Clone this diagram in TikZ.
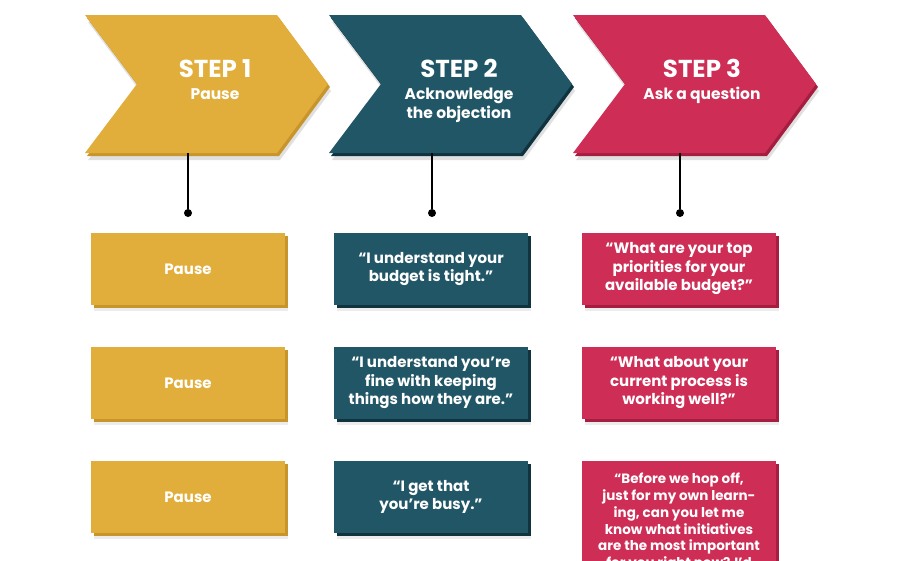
\documentclass[tikz,border=0pt]{standalone}
\usepackage{fontspec}
\setmainfont{Poppins}
\usepackage{tikz}
\usetikzlibrary{positioning,shadows}
\definecolor{gold}{HTML}{E2AE3B}
\definecolor{goldD}{HTML}{C7952B}
\definecolor{teal}{HTML}{215667}
\definecolor{tealD}{HTML}{10333F}
\definecolor{crim}{HTML}{CE2D55}
\definecolor{crimD}{HTML}{A51E40}
\newcommand{\chevron}[3]{%
  \fill[black,opacity=.12,shift={(3,7)}] (#1,15) -- ++(192,0) -- ++(51,69) -- ++(-51,69) -- ++(-192,0) -- ++(52,-69) -- cycle;
  \fill[#3,shift={(2,3)}] (#1,15) -- ++(192,0) -- ++(51,69) -- ++(-51,69) -- ++(-192,0) -- ++(52,-69) -- cycle;
  \fill[#2] (#1,15) -- ++(192,0) -- ++(51,69) -- ++(-51,69) -- ++(-192,0) -- ++(52,-69) -- cycle;}

\begin{document}
\begin{tikzpicture}[x=1pt,y=-1pt,
  head/.style={text=white,align=center,inner sep=0pt,font=\bfseries\fontsize{15.5}{19}\selectfont},
  box/.style={minimum width=194pt,minimum height=72pt,inner sep=0pt,align=center,text=white,
    font=\bfseries\fontsize{15}{18.5}\selectfont,
    drop shadow={opacity=.15,shadow xshift=3pt,shadow yshift=-6pt}},
  goldbox/.style={box,fill=gold,general shadow={fill=goldD,shadow xshift=3pt,shadow yshift=-3pt}},
  tealbox/.style={box,fill=teal,general shadow={fill=tealD,shadow xshift=3pt,shadow yshift=-3pt}},
  redbox/.style={box,fill=crim,general shadow={fill=crimD,shadow xshift=3pt,shadow yshift=-3pt}},
  dot/.style={circle,fill=black,inner sep=0pt,minimum size=8pt}]
\useasboundingbox (0,0) rectangle (900,560);
\clip (0,0) rectangle (900,560);
\fill[white] (0,0) rectangle (900,560);
% chevrons
\chevron{85}{gold}{goldD}
\chevron{329}{teal}{tealD}
\chevron{573}{crim}{crimD}
\node[head,anchor=north] (step1) at (215,59) {{\fontsize{24.5}{24}\selectfont STEP 1}\\[3pt] Pause};
\node[head,anchor=north] (step2) at (459,59) {{\fontsize{24.5}{24}\selectfont STEP 2}\\[3pt] Acknowledge\\ the objection};
\node[head,anchor=north] (step3) at (702,59) {{\fontsize{24.5}{24}\selectfont STEP 3}\\[3pt] Ask a question};
% stems
\coordinate (c1) at (188,153);
\coordinate (c2) at (432,153);
\coordinate (c3) at (680,153);
\node[dot] (d1) at (188,213) {};
\node[dot] (d2) at (432,213) {};
\node[dot] (d3) at (680,213) {};
\foreach \i in {1,2,3} \draw[line width=1.6pt] (c\i) -- (d\i);
% answer boxes
\node[goldbox] (p1) at (188,269) {Pause};
\node[goldbox] (p2) at (188,383) {Pause};
\node[goldbox] (p3) at (188,497) {Pause};
\node[tealbox] (a1) at (431,269) {“I understand your\\ budget is tight.”};
\node[tealbox] (a2) at (431,383) {“I understand you’re\\ fine with keeping\\ things how they are.”};
\node[tealbox] (a3) at (431,497) {“I get that\\ you’re busy.”};
\node[redbox] (q1) at (679,269) {“What are your top\\ priorities for your\\ available budget?”};
\node[redbox] (q2) at (679,383) {“What about your\\ current process is\\ working well?”};
\node[redbox,anchor=north,inner ysep=12pt,font=\bfseries\fontsize{13.5}{16.8}\selectfont] (q3) at (679,461)
  {“Before we hop off,\\ just for my own learn-\\ ing, can you let me\\ know what initiatives\\ are the most important\\ for you right now? I’d};
\end{tikzpicture}
\end{document}
